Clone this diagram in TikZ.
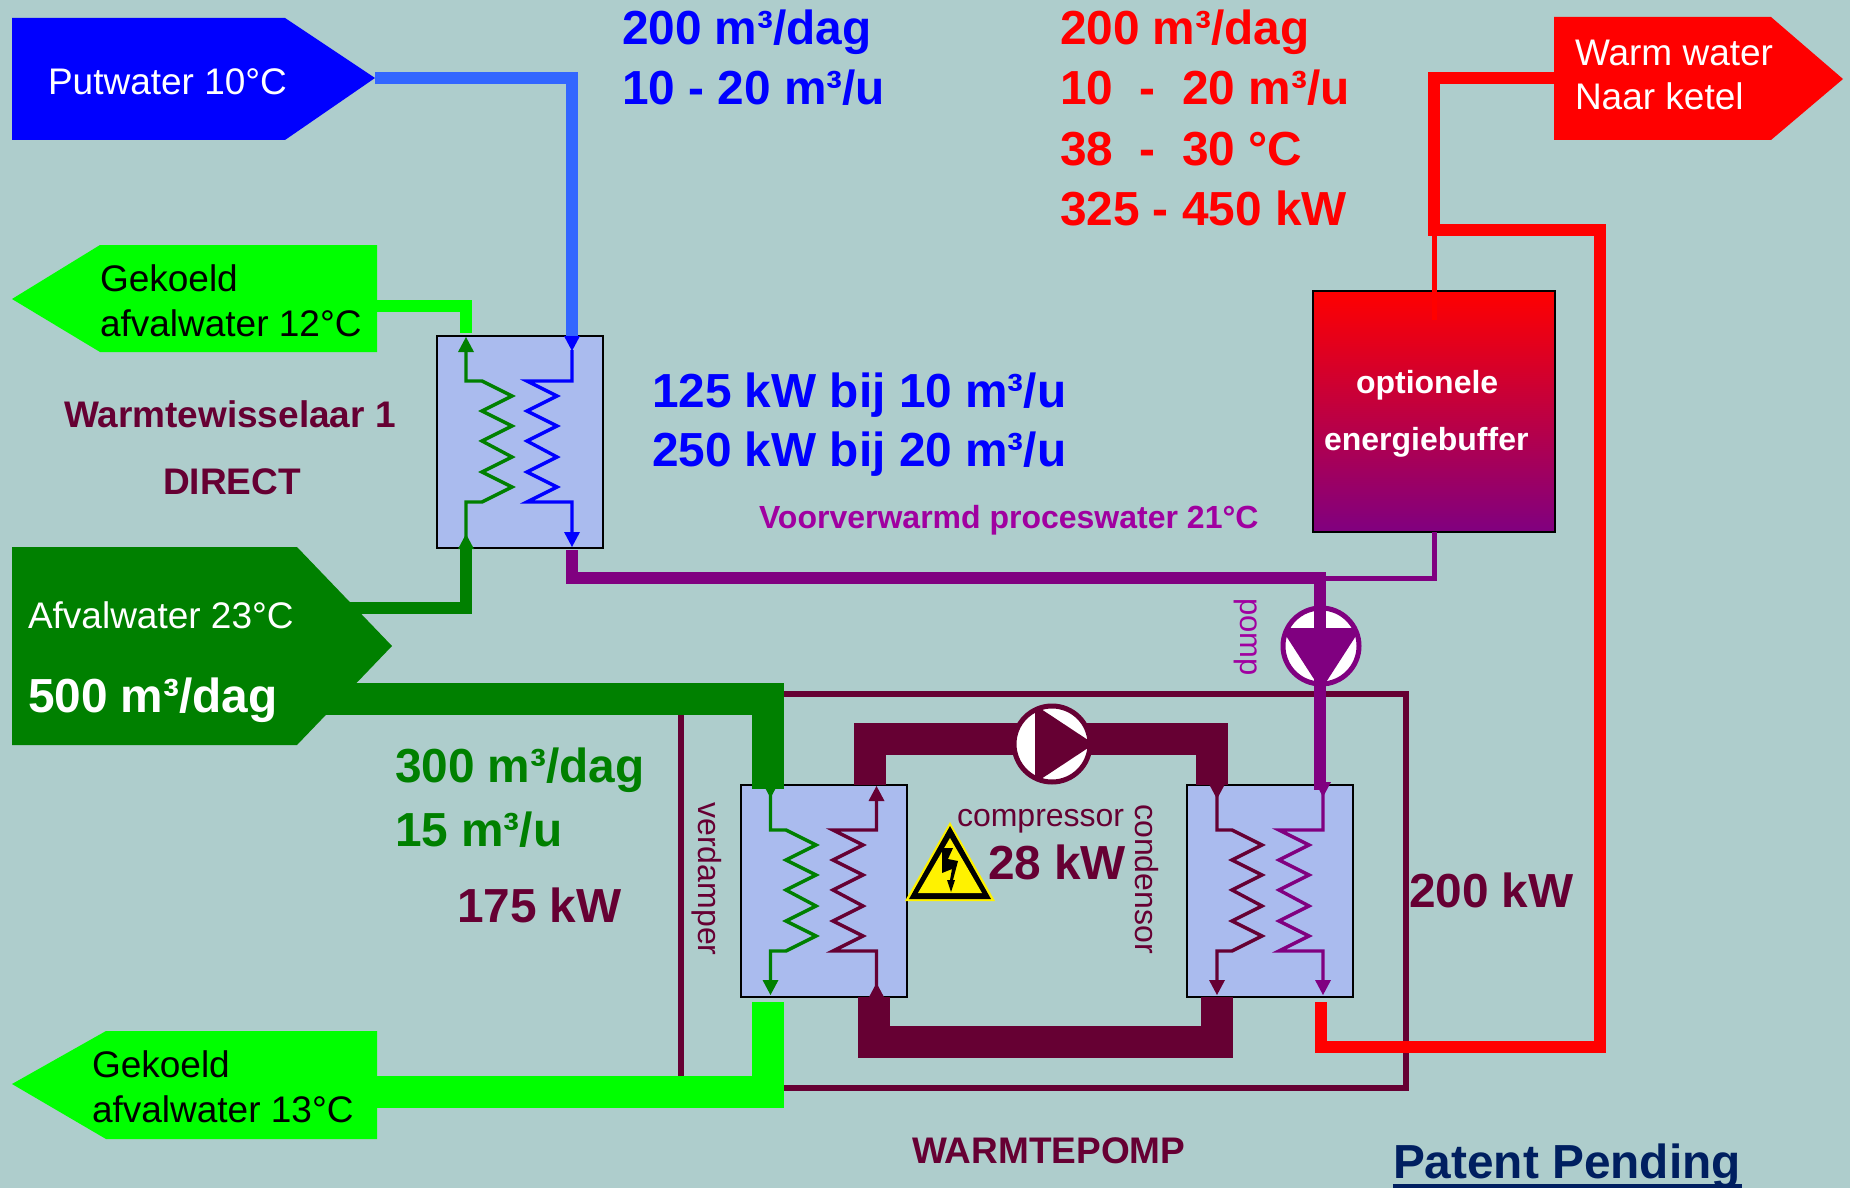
\documentclass[tikz,border=0pt]{standalone}
\usepackage{fontspec}
\setmainfont{Liberation Sans}
\usetikzlibrary{arrows.meta,calc}
\definecolor{bgc}{HTML}{AECDCC}
\definecolor{maroonc}{HTML}{660033}
\definecolor{dkgreen}{HTML}{008000}
\definecolor{limec}{HTML}{00FF00}
\definecolor{pipeblue}{HTML}{3366FF}
\definecolor{purplec}{HTML}{800080}
\definecolor{lblpurple}{HTML}{A000A0}
\definecolor{boxc}{HTML}{AABBEE}
\definecolor{navyc}{HTML}{001F60}
\newcommand{\fs}[1]{\fontsize{#1}{#1}\selectfont}
% zigzag coil: left x, right x, top y
\newcommand{\zig}[3]{(#1,#3) -- (#2,#3+15) -- (#1,#3+30) -- (#2,#3+45) -- (#1,#3+60) -- (#2,#3+76) -- (#1,#3+91) -- (#2,#3+106) -- (#1,#3+121)}
\newcommand{\tipUp}[3]{\fill[#3] (#1-8,#2+15) -- (#1,#2) -- (#1+8,#2+15) -- cycle;}
\newcommand{\tipDown}[3]{\fill[#3] (#1-8,#2-15) -- (#1,#2) -- (#1+8,#2-15) -- cycle;}
\tikzset{
 lbl/.style={anchor=base west,inner sep=0pt,outer sep=0pt,font=\fs{37}},
 big/.style={lbl,font=\fs{47.8}\bfseries},
 hxbox/.style={draw=black,line width=2.5pt,fill=boxc,minimum width=166pt,minimum height=212pt,inner sep=0pt,outer sep=0pt},
 coilline/.style={line width=3.4pt,line join=miter},
 pipeS/.style={line width=12pt},
 pipeT/.style={line width=5pt},
 pipeL/.style={line width=32pt},
 vert/.style={anchor=center,inner sep=0pt,rotate=-90,font=\fs{32}},
}
\begin{document}
\begin{tikzpicture}[x=1pt,y=-1pt]
\useasboundingbox (0,0) rectangle (1850,1188);
\fill[bgc] (0,0) rectangle (1850,1188);

% named points
\coordinate (puttip) at (375,78);
\coordinate (g12end) at (377,306);
\coordinate (afvTop) at (340,608);
\coordinate (afvLow) at (320,699);
\coordinate (g13end) at (377,1092);
\coordinate (warmend) at (1554,78);
\coordinate (redcorner) at (1434,230);

% outer heat pump frame
\node[draw=maroonc,line width=5.5pt,minimum width=725pt,minimum height=394pt,inner sep=0pt] (frame) at (1043.5,891) {};

% terminals
\fill[blue] (12,18) -- (285,18) -- (375,78) -- (285,140) -- (12,140) -- cycle;
\fill[limec] (12,299) -- (100,245) -- (377,245) -- (377,352) -- (100,352) -- cycle;
\fill[dkgreen] (12,547) -- (297,547) -- (392,646) -- (297,745) -- (12,745) -- cycle;
\fill[limec] (12,1084) -- (106,1031) -- (377,1031) -- (377,1139) -- (106,1139) -- cycle;
\fill[red] (1554,17) -- (1771,17) -- (1843,79) -- (1771,140) -- (1554,140) -- cycle;

% boxes
\node[hxbox] (hxa) at (520,442) {};
\node[hxbox] (evap) at (824,891) {};
\node[hxbox] (cond) at (1270,891) {};
\shade[top color=red,bottom color=purplec] (1313,291) rectangle (1555,532);
\draw[black,line width=2.5pt] (1313,291) rectangle (1555,532);
\node[minimum width=242pt,minimum height=241pt,inner sep=0pt] (buffer) at (1434,411.5) {};
\coordinate (hxaBlue) at (572,336);
\coordinate (hxaLime) at (466,333);
\coordinate (hxaDark) at (466,548);
\coordinate (hxaOut) at (572,550);
\coordinate (evapIn) at (768,789);
\coordinate (evapOut) at (768,1002);
\coordinate (condIn) at (1320,790);
\coordinate (condOut) at (1320.5,1002);

% pipes
\draw[pipeblue,pipeS] (puttip) -| (hxaBlue);
\draw[limec,pipeS] (g12end) -| (hxaLime);
\draw[dkgreen,pipeS] (afvTop) -| (hxaDark);
\draw[dkgreen,pipeL] (afvLow) -| (evapIn);
\draw[limec,pipeL] (g13end) -| (evapOut);

% refrigerant loop
\coordinate (ltop) at (870,739);
\coordinate (rtop) at (1212,739);
\coordinate (lbot) at (873.5,1042);
\coordinate (rbot) at (1217,1042);
\draw[maroonc,pipeL] (870,785) -- (ltop) -- (rtop) -- (1212,785);
\draw[maroonc,pipeL] (873.5,997) -- (lbot) -- (rbot) -- (1217,997);

% red circuit
\draw[red,pipeT] (1434,320) -- (redcorner);
\draw[red,pipeS] (warmend) -- (1434,78) -- (redcorner) -- (1600,230) -- (1600,1047) -- (1320.5,1047) -- (condOut);

% pump
\node[circle,draw=purplec,line width=5pt,fill=white,minimum size=76pt,inner sep=0pt] (pump) at (1321,646) {};
\begin{scope}
\clip (1321,646) circle (38);
\fill[purplec] (1281,628) -- (1361,628) -- (1321,690) -- cycle;
\end{scope}

% purple circuit
\draw[purplec,pipeT] (buffer.south) |- (1320,578);
\draw[purplec,pipeS] (hxaOut) |- (1320,578) -- (condIn);

% compressor
\node[circle,draw=maroonc,line width=5pt,fill=white,minimum size=76pt,inner sep=0pt] (comp) at (1052,744) {};
\begin{scope}
\clip (1052,744) circle (38);
\fill[maroonc] (1035,705) -- (1094,744) -- (1035,783) -- cycle;
\end{scope}

% coils: heat exchanger 1
\draw[dkgreen,coilline] (466,352) -- (466,381) -- (482,381) -- \zig{482}{512}{381} -- (466,502) -- (466,548);
\tipUp{466}{337}{dkgreen}
\tipUp{466}{534}{dkgreen}
\draw[blue,coilline] (572,350) -- (572,381) -- (527,381) -- \zig{527}{557}{381} -- (572,502) -- (572,534);
\tipDown{572}{351}{blue}
\tipDown{572}{547}{blue}

% coils: evaporator
\draw[dkgreen,coilline] (770.5,790) -- (770.5,830) -- (786,830) -- \zig{786}{816}{830} -- (770.5,951) -- (770.5,982);
\tipDown{770.5}{798}{dkgreen}
\tipDown{770.5}{995}{dkgreen}
\draw[maroonc,coilline] (876.5,800) -- (876.5,830) -- (833,830) -- \zig{833}{863}{830} -- (876.5,951) -- (876.5,996);
\tipUp{876.5}{786}{maroonc}
\tipUp{876.5}{983}{maroonc}

% coils: condensor
\draw[maroonc,coilline] (1217,790) -- (1217,830) -- (1232,830) -- \zig{1232}{1262}{830} -- (1217,951) -- (1217,982);
\tipDown{1217}{799}{maroonc}
\tipDown{1217}{995}{maroonc}
\draw[purplec,coilline] (1323,790) -- (1323,830) -- (1279,830) -- \zig{1279}{1309}{830} -- (1323,951) -- (1323,982);
\tipDown{1323}{797}{purplec}
\tipDown{1323}{995}{purplec}

% warning sign
\fill[yellow] (950,822) -- (995,901) -- (905,901) -- cycle;
\fill[black] (950,826) -- (991,899) -- (909,899) -- cycle;
\fill[yellow] (950,838) -- (982,893) -- (918,893) -- cycle;
\fill[black] (942,848) -- (953,848) -- (948,859) -- (958,861) -- (953,880) -- (955,880) -- (951,892) -- (947,880) -- (950,880) -- (952,869) -- (942,873) -- cycle;

% labels
\node[lbl,white] (tPut) at (48,95) {Putwater 10°C};
\node[lbl] (tG12a) at (100,291) {Gekoeld};
\node[lbl] (tG12b) at (100,336) {afvalwater 12°C};
\node[lbl,white] (tAfv) at (28,628) {Afvalwater 23°C};
\node[big,white] (tAfv2) at (28,712) {500 m³/dag};
\node[lbl] (tG13a) at (92,1077) {Gekoeld};
\node[lbl] (tG13b) at (92,1122) {afvalwater 13°C};
\node[lbl,white] (tWarm) at (1575,66) {Warm water};
\node[lbl,white] (tKetel) at (1575,110) {Naar ketel};

\node[big,blue] (b1) at (622,45) {200 m³/dag};
\node[big,blue] (b2) at (622,105) {10 - 20 m³/u};
\node[big,red] (r1) at (1060,45) {200 m³/dag};
\node[big,red] (r2) at (1060,105) {10 \ - \ 20 m³/u};
\node[big,red] (r3) at (1060,165) {38 \ - \ 30 °C};
\node[big,red] (r4) at (1060,225) {325 - 450 kW};
\node[big,blue] (b3) at (652,407) {125 kW bij 10 m³/u};
\node[big,blue] (b4) at (652,466) {250 kW bij 20 m³/u};

\node[lbl,font=\fs{37}\bfseries,maroonc] (wt1) at (64,427) {Warmtewisselaar 1};
\node[lbl,font=\fs{37}\bfseries,maroonc] (wt2) at (163,494) {DIRECT};
\node[lbl,font=\fs{32}\bfseries,lblpurple] (pre) at (759,528) {Voorverwarmd proceswater 21°C};
\node[lbl,font=\fs{32}\bfseries,white] (ob1) at (1356,393) {optionele};
\node[lbl,font=\fs{32}\bfseries,white] (ob2) at (1324,450) {energiebuffer};

\node[big,dkgreen] (g1) at (395,782) {300 m³/dag};
\node[big,dkgreen] (g2) at (395,846) {15 m³/u};
\node[big,maroonc] (k1) at (457,922) {175 kW};
\node[big,maroonc] (k2) at (1409,907) {200 kW};
\node[big,maroonc] (k3) at (988,879) {28 kW};
\node[lbl,font=\fs{32},maroonc] (tcomp) at (957,826) {compressor};
\node[vert,maroonc] (tverd) at (707,879) {verdamper};
\node[vert,maroonc] (tcond) at (1147,879) {condensor};
\node[vert,font=\fs{31},lblpurple] (tpomp) at (1246,637) {pomp};
\node[lbl,font=\fs{37}\bfseries,maroonc] (tpump) at (912,1163) {WARMTEPOMP};
\node[big,navyc] (tpat) at (1393,1178) {Patent Pending};
\draw[navyc,line width=5pt] (1393,1186) -- (1742,1186);
\end{tikzpicture}
\end{document}
